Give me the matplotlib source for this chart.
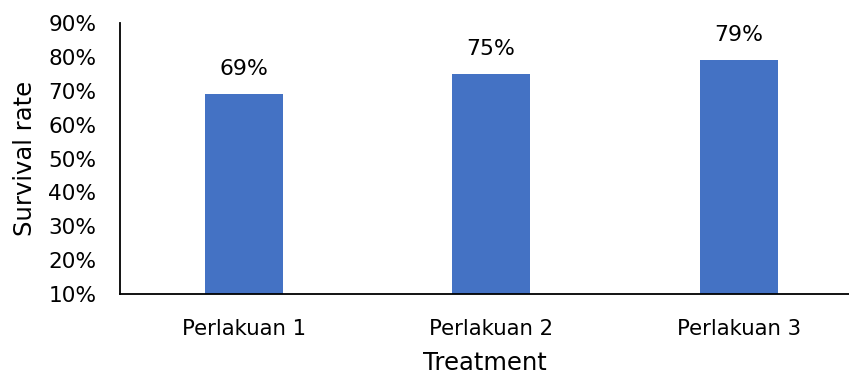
import matplotlib.pyplot as plt
from matplotlib.ticker import PercentFormatter

treatments = ["Perlakuan 1", "Perlakuan 2", "Perlakuan 3"]
survival = [69, 75, 79]
yticks = [10, 20, 30, 40, 50, 60, 70, 80, 90]

plt.rcParams["font.family"] = ["DejaVu Sans"]

fig = plt.figure(figsize=(8.49, 3.76), dpi=100)
ax = fig.add_axes([0.1413, 0.2181, 0.8587, 0.7207])

x = range(len(treatments))
bars = ax.bar(x, survival, width=0.315, color="#4472C4", bottom=0)

for rect, v in zip(bars, survival):
    ax.annotate(f"{v}%", (rect.get_x() + rect.get_width() / 2, v),
                xytext=(0, 11), textcoords="offset points",
                ha="center", va="bottom", fontsize=15.8)

ax.set_xlim(-0.5, 2.446)
ax.set_ylim(10, 90)
ax.set_yticks(yticks)
ax.yaxis.set_major_formatter(PercentFormatter(decimals=0))
ax.set_xticks(list(x))
ax.set_xticklabels(treatments)
ax.tick_params(axis="y", length=0, pad=17, labelsize=15.6)
ax.tick_params(axis="x", length=0, pad=18, labelsize=15.3)

for side in ["top", "right"]:
    ax.spines[side].set_visible(False)
ax.spines["left"].set_linewidth(1.3)
ax.spines["bottom"].set_linewidth(1.3)

ax.set_xlabel("Treatment", fontsize=17.5, labelpad=9)
ax.set_ylabel("Survival rate", fontsize=17.5, labelpad=8)

fig.savefig("out.png", dpi=100)
